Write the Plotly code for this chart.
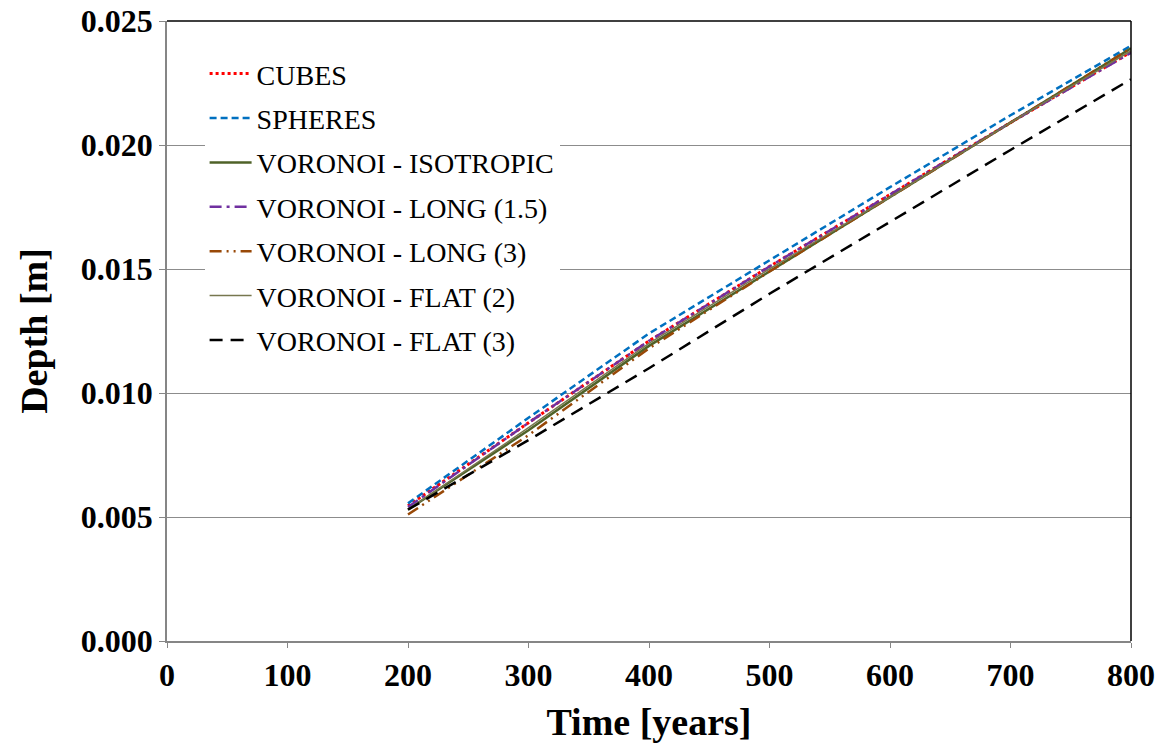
import plotly.graph_objects as go

time = [200, 300, 400, 500, 600, 700, 800]

cubes = [0.00545, 0.0088, 0.0121, 0.0151, 0.0180, 0.0209, 0.02375]
spheres = [0.00555, 0.0090, 0.01240, 0.01535, 0.0183, 0.0212, 0.0240]
vor_iso = [0.0053, 0.0085, 0.0119, 0.0149, 0.0179, 0.0209, 0.0239]
vor_long15 = [0.0054, 0.0088, 0.0121, 0.0151, 0.0180, 0.0209, 0.02372]
vor_long3 = [0.0051, 0.0083, 0.0118, 0.0149, 0.0179, 0.0209, 0.0239]
vor_flat2 = [0.0053, 0.0086, 0.0120, 0.0150, 0.0179, 0.0209, 0.0238]
vor_flat3 = [0.0053, 0.0081, 0.0110, 0.0140, 0.0169, 0.0198, 0.02265]

x_ticks = [0, 100, 200, 300, 400, 500, 600, 700, 800]
y_ticks = [0.000, 0.005, 0.010, 0.015, 0.020, 0.025]

series = [
    ("CUBES", cubes, "#FF0000", "3px,3px", 3),
    ("SPHERES", spheres, "#0070C0", "7px,4px", 2.5),
    ("VORONOI - ISOTROPIC", vor_iso, "#4F6228", "solid", 2.5),
    ("VORONOI - LONG (1.5)", vor_long15, "#7030A0", "12px,5px,3px,5px", 2.5),
    ("VORONOI - LONG (3)", vor_long3, "#984807", "12px,5px,2px,5px,2px,5px", 2.5),
    ("VORONOI - FLAT (2)", vor_flat2, "#77774F", "solid", 1.5),
    ("VORONOI - FLAT (3)", vor_flat3, "#000000", "13px,8px", 2.5),
]

fig = go.Figure()
for i, (name, ys, color, dash, w) in enumerate(series):
    fig.add_trace(go.Scatter(
        x=time, y=ys, mode="lines", name=name,
        legendgroup=f"g{i}",
        line=dict(color=color, dash=dash, width=w),
    ))

font_family = "Liberation Serif, Times New Roman, serif"

fig.update_layout(
    width=1166, height=753,
    margin=dict(l=167, r=35, t=21, b=112),
    paper_bgcolor="white", plot_bgcolor="white",
    font=dict(family=font_family, color="black"),
    showlegend=True,
    legend=dict(
        x=0.039, y=0.955, xanchor="left", yanchor="top",
        bgcolor="white", borderwidth=0,
        font=dict(family=font_family, size=28, color="black"),
        traceorder="grouped", tracegroupgap=5, itemwidth=42,
    ),
    xaxis=dict(
        range=[0, 800], tickvals=x_ticks,
        showgrid=False, zeroline=False, automargin=False,
        ticklabeloverflow="allow",
        showline=True, linecolor="#868686", linewidth=1.5,
        ticks="outside", ticklen=5, tickcolor="#868686",
        tickfont=dict(family=font_family, size=32, color="black", weight="bold"),
        title=dict(text="<b>Time [years]</b>", font=dict(family=font_family, size=38, color="black"), standoff=16),
    ),
    yaxis=dict(
        range=[0, 0.025], tickvals=y_ticks, tickformat=".3f",
        showgrid=True, gridcolor="#8C8C8C", gridwidth=1,
        zeroline=False, automargin=False,
        ticklabeloverflow="allow",
        showline=True, linecolor="#868686", linewidth=1.5,
        ticks="outside", ticklen=6, tickcolor="#868686",
        tickfont=dict(family=font_family, size=32, color="black", weight="bold"),
        title=dict(text="<b>Depth [m]</b>", font=dict(family=font_family, size=38, color="black"), standoff=22),
    ),
    shapes=[
        dict(type="line", xref="paper", yref="paper", x0=0, x1=1, y0=1, y1=1,
             line=dict(color="black", width=1.5)),
        dict(type="line", xref="paper", yref="paper", x0=1, x1=1, y0=0, y1=1,
             line=dict(color="black", width=1.5)),
    ],
)

fig.write_html(
    "out.html",
    config={"displayModeBar": False},
    post_script="document.body.style.margin='0px';document.body.style.overflow='hidden';",
)
